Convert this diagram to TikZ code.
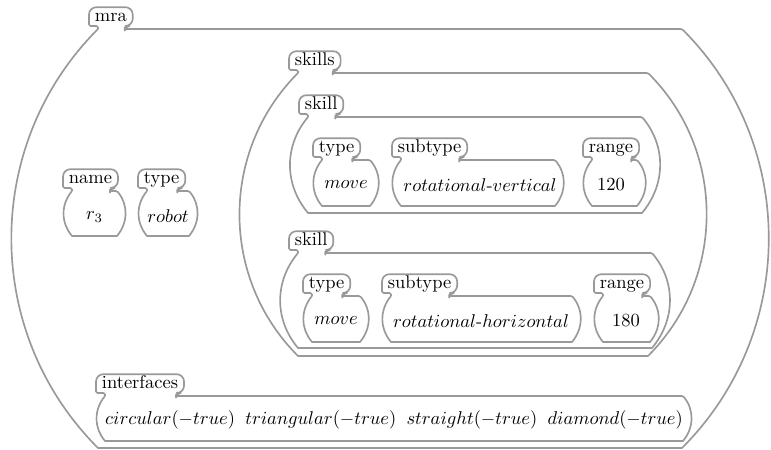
\documentclass[tikz,border=0pt]{standalone}
\usepackage{amsmath}
\usepackage{tikz}

\definecolor{framegray}{gray}{0.6}

\begin{document}
\begin{tikzpicture}[x=0.5405pt, y=-0.5405pt,
    tab/.style={inner xsep=3pt, inner ysep=1pt, text height=1.5ex, text depth=0.3ex},
    frame/.style={draw=framegray, line width=0.9pt, line join=round}]

    % feature box: node, label, left, right, top, bottom, bend of the sides
    \def\avmbox#1#2#3#4#5#6#7{%
        \node[tab, anchor=south west] (#1) at (#3-9, #5-3) {#2};
        \draw[frame] (#3,#5) [rounded corners=0.8pt] -- (#3,#5-3) -- (#1.south west)
            [rounded corners=4pt] -- (#1.north west) -- (#1.north east) -- (#1.south east)
            [rounded corners=2.5pt] -- ++(-8,0)
            [rounded corners=0.7pt] -- ++(0,3) -- (#4,#5)
            [sharp corners] to[bend left=#7] (#4,#6) -- (#3,#6)
            to[bend left=#7] (#3,#5);
    }

    \useasboundingbox (0,0) rectangle (771,450);

    % outer structure
    \avmbox{mra}{mra}{98}{682}{29}{448}{45}

    % name and type
    \avmbox{name}{name}{72}{117}{191}{236}{40}
    \avmbox{type}{type}{147}{189}{191}{236}{40}
    \node (v-name) at (94.5,217) {$r_3$};
    \node (v-type) at (168,216) {$robot$};

    % skills list
    \avmbox{skills}{skills}{298}{648}{73}{356}{45}

    % first skill
    \avmbox{skill1}{skill}{308}{642}{117}{213}{40}
    \avmbox{type1}{type}{322}{370}{160}{206}{40}
    \avmbox{subtype1}{subtype}{401}{555}{160}{206}{40}
    \avmbox{range1}{range}{592}{637}{160}{206}{40}
    \node (v-type1) at (346,185) {$move$};
    \node (v-subtype1) at (480,185) {$rotational\text{-}vertical$};
    \node (v-range1) at (611,185) {120};

    % second skill
    \avmbox{skill2}{skill}{298}{652}{253}{348}{40}
    \avmbox{type2}{type}{312}{360}{296}{342}{40}
    \avmbox{subtype2}{subtype}{391}{572}{296}{342}{40}
    \avmbox{range2}{range}{603}{650}{296}{342}{40}
    \node (v-type2) at (336,321) {$move$};
    \node (v-subtype2) at (481,321) {$rotational\text{-}horizontal$};
    \node (v-range2) at (626,321) {180};

    % interfaces
    \avmbox{interfaces}{interfaces}{105}{683}{396}{441}{40}
    \node (v-interfaces) at (394,420)
        {$circular(-true)\;\; triangular(-true)\;\; straight(-true)\;\; diamond(-true)$};
\end{tikzpicture}
\end{document}
